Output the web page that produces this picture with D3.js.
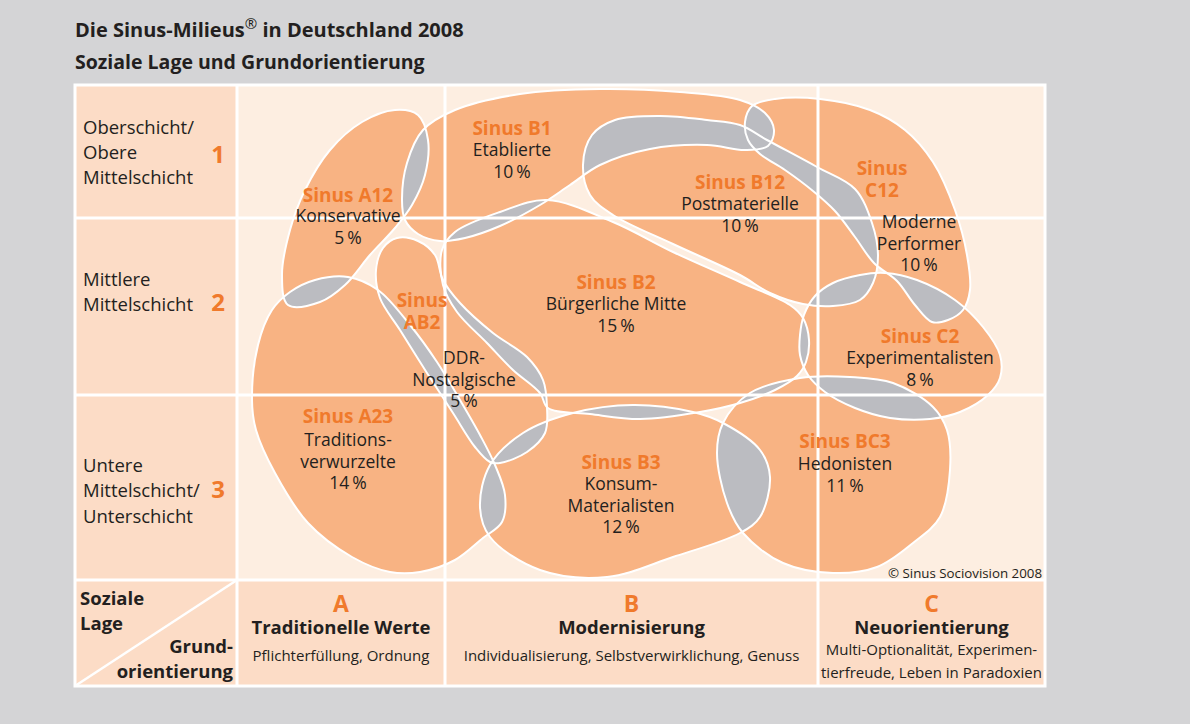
<!DOCTYPE html>
<html>
<head>
<meta charset="utf-8">
<script src="https://cdn.jsdelivr.net/npm/d3@7"></script>
<style>
body { margin: 0; background: #d4d4d6; }
svg { display: block; font-family: "Open Sans", "Noto Sans", sans-serif; }
</style>
</head>
<body>
<div id="chart"></div>
<script>
// plot units: x 0..808 across A|B|C, y 0..495 from Oberschicht down to Unterschicht
var colEdges = [0, 208, 581, 808];
var rowEdges = [0, 133, 310, 495];
var labelColStart = -162;
var bottomRowEnd = 601;

var rowNames = [["Oberschicht/", "Obere", "Mittelschicht"], ["Mittlere", "Mittelschicht"], ["Untere", "Mittelschicht/", "Unterschicht"]];
var rowNameY = [[43, 68, 93], [195, 220], [381, 406, 432]];
var rowNumbers = ["1", "2", "3"];
var rowNumberY = [70, 218, 405];
var colLetters = ["A", "B", "C"];
var colTitles = ["Traditionelle Werte", "Modernisierung", "Neuorientierung"];
var colSubtitles = [["Pflichterfüllung, Ordnung"], ["Individualisierung, Selbstverwirklichung, Genuss"], ["Multi-Optionalität, Experimen-", "tierfreude, Leben in Paradoxien"]];

var milieuCodes = [["Sinus A12"], ["Sinus B1"], ["Sinus B12"], ["Sinus", "C12"], ["Sinus", "AB2"], ["Sinus B2"], ["Sinus C2"], ["Sinus A23"], ["Sinus B3"], ["Sinus BC3"]];
var milieuNames = [["Konservative"], ["Etablierte"], ["Postmaterielle"], ["Moderne", "Performer"], ["DDR-", "Nostalgische"], ["Bürgerliche Mitte"], ["Experimentalisten"], ["Traditions-", "verwurzelte"], ["Konsum-", "Materialisten"], ["Hedonisten"]];
var milieuShares = [5, 10, 10, 10, 5, 15, 8, 14, 12, 11];
var labelX = [111, 275, 503, 645, 185, 379, 683, 111, 384, 608];
var labelY = [110, 43, 97, 83, 215, 197, 251, 331, 377, 356];
var nameX = [111, 275, 503, 682, 227, 379, 683, 111, 384, 608];
var nameY = [131, 65, 119, 137, 273, 219, 273, 355, 399, 379];

// blob outlines in plot units
var outlineA12 = [[51,220],[45,190],[53,145],[68,105],[93,65],[125,37],[158,25],[181,30],[191,55],[188,90],[175,120],[158,143],[133,170],[108,200],[83,217]];
var outlineB1 = [[165,115],[170,78],[186,45],[218,25],[283,9],[363,4],[443,7],[503,15],[528,28],[537,45],[531,61],[508,65],[470,60],[413,64],[363,80],[333,100],[303,120],[263,141],[228,153],[203,156],[181,149],[168,135]];
var outlineB12 = [[346,80],[355,50],[378,35],[423,31],[470,35],[503,40],[530,55],[580,82],[618,104],[635,138],[641,170],[636,198],[623,215],[596,221],[566,219],[533,208],[503,190],[436,159],[376,130],[353,110]];
var outlineC12 = [[508,37],[515,21],[538,14],[583,14],[633,25],[668,45],[696,77],[718,125],[730,170],[733,205],[726,225],[711,235],[695,237],[678,220],[660,196],[637,178],[618,152],[598,126],[576,106],[548,85],[523,69],[511,55]];
var outlineAB2 = [[160,153],[181,156],[198,170],[206,195],[223,218],[256,248],[290,272],[306,295],[310,322],[308,348],[290,367],[263,378],[253,377],[238,362],[216,328],[190,288],[163,245],[143,213],[139,185],[146,163]];
var outlineB2 = [[205,165],[218,147],[263,127],[310,115],[376,137],[436,167],[503,197],[553,220],[566,233],[572,255],[569,277],[560,291],[538,305],[503,318],[463,327],[403,334],[353,329],[311,323],[303,308],[276,285],[250,258],[220,227],[206,200]];
var outlineC2 = [[563,250],[567,230],[578,211],[596,198],[623,190],[648,188],[680,195],[718,215],[746,242],[763,270],[763,293],[751,310],[723,327],[693,334],[653,333],[618,323],[588,307],[571,290],[563,270]];
var outlineA23 = [[15,315],[21,260],[35,225],[53,207],[78,195],[111,192],[141,205],[173,240],[200,277],[223,315],[243,350],[258,380],[268,410],[265,437],[246,453],[218,475],[183,487],[153,487],[115,472],[71,438],[38,388],[19,345]];
var outlineB3 = [[253,380],[286,348],[336,328],[396,320],[456,327],[486,338],[523,365],[533,392],[523,432],[503,448],[436,472],[370,492],[303,485],[253,452],[243,422]];
var outlineBC3 = [[480,368],[486,338],[513,308],[563,293],[613,292],[656,298],[696,322],[710,345],[713,385],[703,432],[676,458],[640,482],[596,488],[546,478],[506,448],[490,418]];

var outlines = [outlineA12, outlineB1, outlineB12, outlineC12, outlineAB2, outlineB2, outlineC2, outlineA23, outlineB3, outlineBC3];

var colors = { bg: "#d4d4d6", label: "#fcdcc6", cell: "#fdeee1", blob: "#f8b383", overlap: "#bbbcc1", accent: "#f07a2c", text: "#231f20" };

var W = 1190, H = 724;
var svg = d3.select("#chart").append("svg")
	.attr("width", W)
	.attr("height", H);

svg.append("rect").attr("width", W).attr("height", H).attr("fill", colors.bg);

var x = d3.scaleLinear().domain([0, 808]).range([237, 1045]);
var y = d3.scaleLinear().domain([0, 495]).range([85, 580]);

// title
var title = svg.append("text")
	.attr("x", 75).attr("y", 37)
	.attr("font-size", 20).attr("font-weight", 700).attr("fill", colors.text);
title.append("tspan").text("Die Sinus-Milieus");
title.append("tspan").attr("dy", -8).attr("font-size", 15).attr("font-weight", 400).text("\u00ae");
title.append("tspan").attr("dy", 8).text(" in Deutschland 2008");
svg.append("text")
	.attr("x", 75).attr("y", 69)
	.attr("font-size", 19.5).attr("font-weight", 700).attr("fill", colors.text)
	.text("Soziale Lage und Grundorientierung");

// background cells
svg.append("rect")
	.attr("x", x(labelColStart)).attr("y", y(0))
	.attr("width", x(0) - x(labelColStart)).attr("height", y(bottomRowEnd) - y(0))
	.attr("fill", colors.label);
svg.append("rect")
	.attr("x", x(0)).attr("y", y(0))
	.attr("width", x(808) - x(0)).attr("height", y(495) - y(0))
	.attr("fill", colors.cell);
svg.append("rect")
	.attr("x", x(0)).attr("y", y(495))
	.attr("width", x(808) - x(0)).attr("height", y(bottomRowEnd) - y(495))
	.attr("fill", colors.label);

// blobs
var blobLine = d3.line()
	.x(function (d) { return x(d[0]); })
	.y(function (d) { return y(d[1]); })
	.curve(d3.curveCatmullRomClosed.alpha(0.5));

var defs = svg.append("defs");
outlines.forEach(function (o, i) {
	defs.append("clipPath").attr("id", "clip" + i)
		.append("path").attr("d", blobLine(o));
});

var blobs = svg.append("g");
blobs.selectAll("path.blob")
	.data(outlines)
	.enter().append("path")
	.attr("class", "blob")
	.attr("d", blobLine)
	.attr("fill", colors.blob);

// overlaps in grey
outlines.forEach(function (o, i) {
	outlines.forEach(function (p, j) {
		if (j <= i) return;
		blobs.append("path")
			.attr("d", blobLine(o))
			.attr("clip-path", "url(#clip" + j + ")")
			.attr("fill", colors.overlap);
	});
});

blobs.selectAll("path.edge")
	.data(outlines)
	.enter().append("path")
	.attr("class", "edge")
	.attr("d", blobLine)
	.attr("fill", "none")
	.attr("stroke", "white")
	.attr("stroke-width", 2);

// grid lines
var grid = svg.append("g").attr("stroke", "white").attr("stroke-width", 3);
colEdges.slice(0, 3).forEach(function (c) {
	grid.append("line").attr("x1", x(c)).attr("x2", x(c)).attr("y1", y(0)).attr("y2", y(bottomRowEnd));
});
rowEdges.slice(1).forEach(function (r) {
	grid.append("line").attr("x1", x(labelColStart)).attr("x2", x(808)).attr("y1", y(r)).attr("y2", y(r));
});
grid.append("rect")
	.attr("x", x(labelColStart)).attr("y", y(0))
	.attr("width", x(808) - x(labelColStart)).attr("height", y(bottomRowEnd) - y(0))
	.attr("fill", "none");
grid.append("line")
	.attr("x1", x(labelColStart)).attr("y1", y(bottomRowEnd))
	.attr("x2", x(0)).attr("y2", y(495))
	.attr("stroke-width", 2.5);

// row labels
rowNames.forEach(function (lines, i) {
	lines.forEach(function (l, k) {
		svg.append("text")
			.attr("x", x(labelColStart) + 8).attr("y", y(rowNameY[i][k])).attr("dy", "0.35em")
			.attr("font-size", 18.5).attr("fill", colors.text)
			.text(l);
	});
	svg.append("text")
		.attr("x", x(0) - 12).attr("y", y(rowNumberY[i])).attr("dy", "0.35em")
		.attr("text-anchor", "end")
		.attr("font-size", 24).attr("font-weight", 700).attr("fill", colors.accent)
		.text(rowNumbers[i]);
});

// corner labels
[["Soziale", 599], ["Lage", 624]].forEach(function (d) {
	svg.append("text").attr("x", x(labelColStart) + 5).attr("y", d[1]).attr("dy", "0.35em")
		.attr("font-size", 18.5).attr("font-weight", 700).attr("fill", colors.text).text(d[0]);
});
[["Grund-", 647], ["orientierung", 672]].forEach(function (d) {
	svg.append("text").attr("x", x(0) - 4).attr("y", d[1]).attr("dy", "0.35em")
		.attr("text-anchor", "end")
		.attr("font-size", 18.5).attr("font-weight", 700).attr("fill", colors.text).text(d[0]);
});

// column labels
colLetters.forEach(function (c, i) {
	var cx = (x(colEdges[i]) + x(colEdges[i + 1])) / 2;
	svg.append("text").attr("x", cx).attr("y", 604).attr("dy", "0.35em")
		.attr("text-anchor", "middle").attr("font-size", 23).attr("font-weight", 700)
		.attr("fill", colors.accent).text(c);
	svg.append("text").attr("x", cx).attr("y", 628).attr("dy", "0.35em")
		.attr("text-anchor", "middle").attr("font-size", 18.5).attr("font-weight", 700)
		.attr("fill", colors.text).text(colTitles[i]);
	var subs = colSubtitles[i];
	var sy = subs.length > 1 ? 650 : 656;
	subs.forEach(function (s, k) {
		svg.append("text").attr("x", cx).attr("y", sy + k * 23).attr("dy", "0.35em")
			.attr("text-anchor", "middle").attr("font-size", 15)
			.attr("fill", colors.text).text(s);
	});
});

// milieu labels
milieuCodes.forEach(function (codes, i) {
	codes.forEach(function (c, k) {
		svg.append("text")
			.attr("x", x(labelX[i])).attr("y", y(labelY[i]) + k * 22).attr("dy", "0.35em")
			.attr("text-anchor", "middle").attr("font-size", 19).attr("font-weight", 700)
			.attr("fill", colors.accent).text(c);
	});
	var names = milieuNames[i].concat([milieuShares[i] + "\u2009%"]);
	names.forEach(function (n, k) {
		svg.append("text")
			.attr("x", x(nameX[i])).attr("y", y(nameY[i]) + k * 21.5).attr("dy", "0.35em")
			.attr("text-anchor", "middle").attr("font-size", 17.5)
			.attr("fill", colors.text).text(n);
	});
});

svg.append("text")
	.attr("x", x(808) - 3).attr("y", 573).attr("dy", "0.35em")
	.attr("text-anchor", "end").attr("font-size", 13.3)
	.attr("fill", colors.text).text("\u00a9 Sinus Sociovision 2008");
</script>
</body>
</html>
